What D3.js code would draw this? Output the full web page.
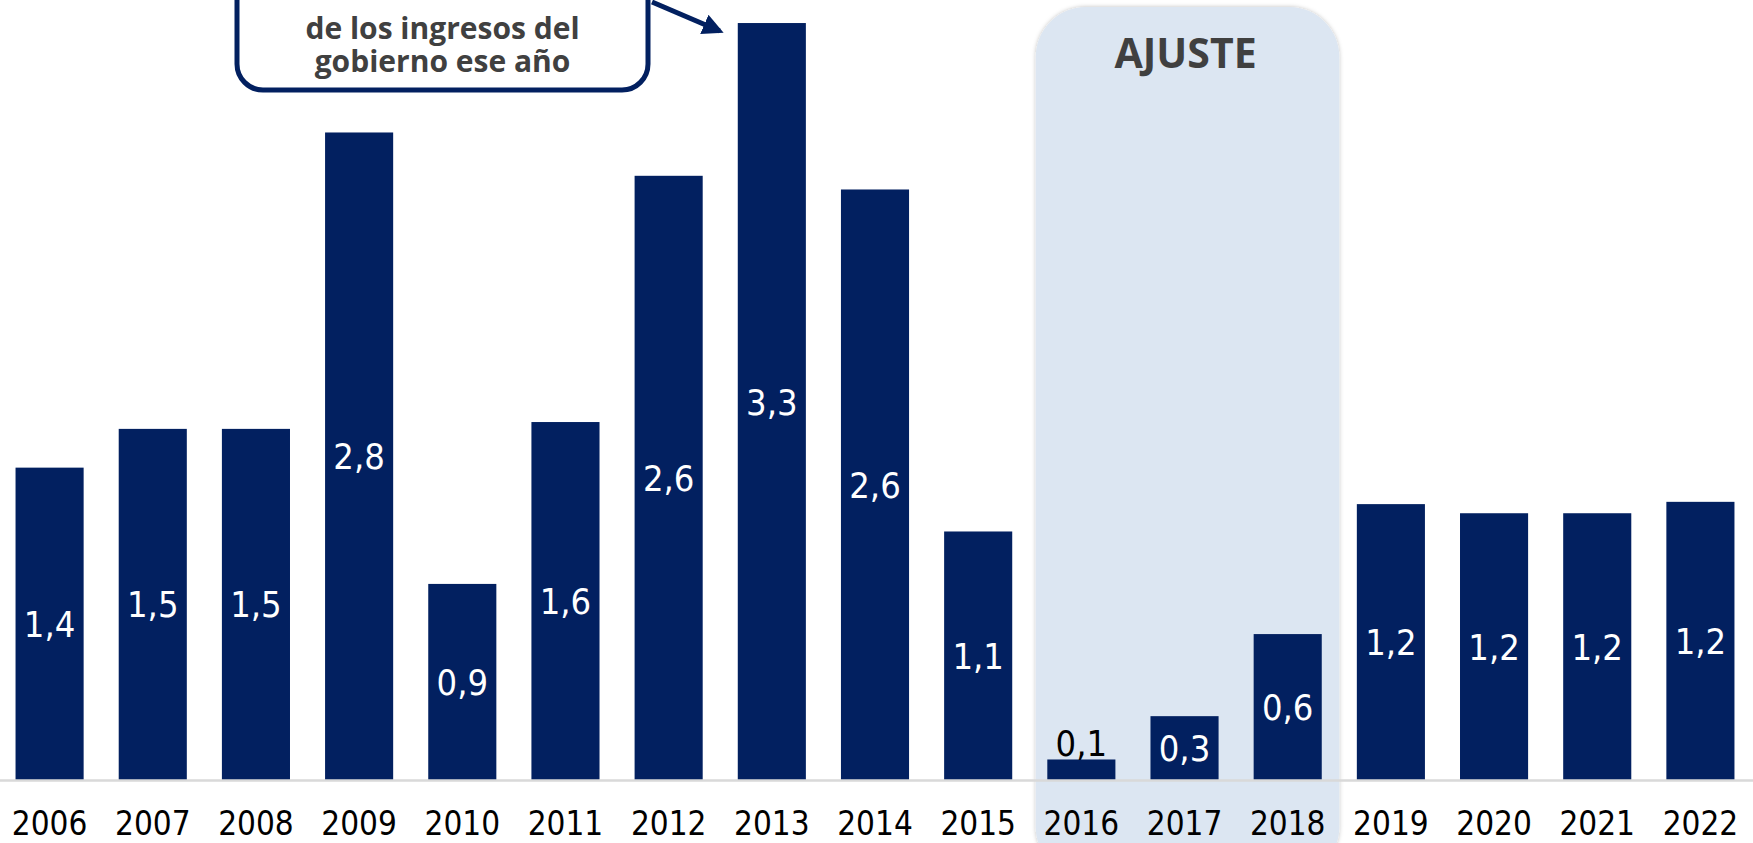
<!DOCTYPE html>
<html>
<head>
<meta charset="utf-8">
<script src="https://cdn.jsdelivr.net/npm/d3@7"></script>
<style>
  html, body { margin: 0; padding: 0; background: #fff; overflow: hidden; }
</style>
</head>
<body>
<div id="chart"></div>
<script>
const years = ["2006", "2007", "2008", "2009", "2010", "2011", "2012", "2013", "2014",
               "2015", "2016", "2017", "2018", "2019", "2020", "2021", "2022"];
const values = [1.37, 1.54, 1.54, 2.84, 0.86, 1.57, 2.65, 3.32, 2.59,
                1.09, 0.09, 0.28, 0.64, 1.21, 1.17, 1.17, 1.22];
const highlightYears = ["2016", "2018"];
const highlightLabel = "AJUSTE";
const calloutLines = ["de los ingresos del", "gobierno ese año"];
const calloutTarget = "2013";

const width = 1753;
const height = 843;
const baseY = 780;
const navy = "#022060";
const labelFont = "'DejaVu Sans Condensed', 'DejaVu Sans', sans-serif";

const svg = d3.select("#chart")
    .append("svg")
    .attr("width", width)
    .attr("height", height);

const defs = svg.append("defs");
const shadow = defs.append("filter").attr("id", "soft").attr("x", "-10%").attr("y", "-10%")
    .attr("width", "120%").attr("height", "120%");
shadow.append("feDropShadow").attr("dx", 0).attr("dy", 0).attr("stdDeviation", 2)
    .attr("flood-color", "#000").attr("flood-opacity", 0.25);
defs.append("marker")
    .attr("id", "arrow")
    .attr("viewBox", "0 0 10 10")
    .attr("refX", 8).attr("refY", 5)
    .attr("markerWidth", 4.2).attr("markerHeight", 4.2)
    .attr("orient", "auto")
    .append("path")
    .attr("d", "M0,0 L10,5 L0,10 Z")
    .attr("fill", navy);

// scales
const x = d3.scaleBand()
    .domain(years)
    .range([-2, 1752])
    .paddingInner(0.34)
    .paddingOuter(0.17);

const y = d3.scaleLinear()
    .domain([0, 3.4])
    .range([baseY, baseY - 3.4 * 228]);

// highlight box behind the bars
const gap = x.step() - x.bandwidth();
const hx0 = x(highlightYears[0]) - gap / 2 + 6;
const hx1 = x(highlightYears[1]) + x.bandwidth() + gap / 2;
svg.append("rect")
    .attr("x", hx0)
    .attr("y", 7)
    .attr("width", hx1 - hx0)
    .attr("height", 870)
    .attr("rx", 50)
    .attr("fill", "#dce6f2")
    .attr("filter", "url(#soft)");

svg.append("text")
    .attr("x", (hx0 + hx1) / 2 - 2)
    .attr("y", 68)
    .attr("text-anchor", "middle")
    .attr("font-family", "'Open Sans', sans-serif")
    .attr("font-weight", 700)
    .attr("font-size", 41)
    .attr("fill", "#404040")
    .text(highlightLabel);

// bars
svg.selectAll(".bar")
    .data(values)
    .enter()
    .append("rect")
    .attr("class", "bar")
    .attr("x", (_, i) => x(years[i]))
    .attr("y", d => y(d))
    .attr("width", x.bandwidth())
    .attr("height", d => y(0) - y(d))
    .attr("fill", navy);

// x axis
const axis = svg.append("g")
    .attr("transform", `translate(0, ${baseY})`)
    .call(d3.axisBottom(x).tickSize(0).tickSizeOuter(0));
axis.select(".domain")
    .attr("d", `M0,0.5H${width}`)
    .attr("stroke", "#d9d9d9")
    .attr("stroke-width", 2.5);
axis.selectAll("text")
    .attr("y", 55)
    .attr("dy", null)
    .attr("font-family", labelFont)
    .attr("font-size", 33)
    .attr("fill", "#000");

// value labels
const fmt = d => d3.format(".1f")(d).replace(".", ",");
svg.selectAll(".val")
    .data(values)
    .enter()
    .append("text")
    .attr("class", "val")
    .attr("x", (_, i) => x(years[i]) + x.bandwidth() / 2)
    .attr("y", d => {
        const h = y(0) - y(d);
        return h < 40 ? y(d) - 3 : (y(d) + y(0)) / 2 + 13;
    })
    .attr("text-anchor", "middle")
    .attr("font-family", labelFont)
    .attr("font-size", 36)
    .attr("fill", d => (y(0) - y(d) < 40 ? "#000" : "#fff"))
    .text(fmt);

// callout box with arrow
const cx0 = 237, cx1 = 648, cyBottom = 90;
svg.append("rect")
    .attr("x", cx0)
    .attr("y", -60)
    .attr("width", cx1 - cx0)
    .attr("height", cyBottom + 60)
    .attr("rx", 26)
    .attr("fill", "#fff")
    .attr("stroke", navy)
    .attr("stroke-width", 5);

const callout = svg.append("text")
    .attr("text-anchor", "middle")
    .attr("font-family", "'Open Sans', sans-serif")
    .attr("font-weight", 700)
    .attr("font-size", 30)
    .attr("fill", "#404040");
callout.selectAll("tspan")
    .data(calloutLines)
    .enter()
    .append("tspan")
    .attr("x", (cx0 + cx1) / 2)
    .attr("y", (_, i) => 39 + i * 33)
    .text(d => d);

const tx = x(calloutTarget) - 18;
svg.append("line")
    .attr("x1", cx1 + 4)
    .attr("y1", 2)
    .attr("x2", tx)
    .attr("y2", y(values[years.indexOf(calloutTarget)]) + 8)
    .attr("stroke", navy)
    .attr("stroke-width", 5)
    .attr("marker-end", "url(#arrow)");
</script>
</body>
</html>
